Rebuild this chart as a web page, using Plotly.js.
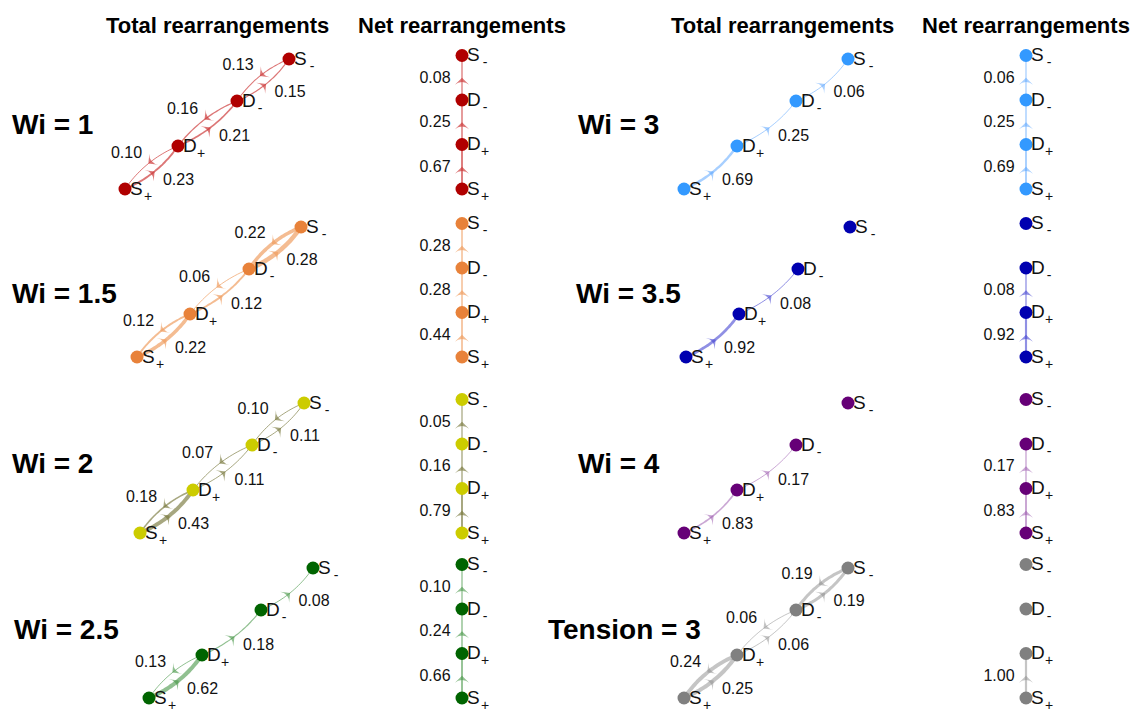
<!DOCTYPE html>
<html>
<head>
<meta charset="utf-8">
<script src="https://cdn.plot.ly/plotly-3.0.1.min.js"></script>
<style>html,body{margin:0;padding:0;background:#fff;}</style>
</head>
<body>
<div id="chart" style="width:1133px;height:713px;"></div>
<script>
// ---- data -------------------------------------------------------------
const conditions = ['Wi = 1', 'Wi = 1.5', 'Wi = 2', 'Wi = 2.5', 'Wi = 3', 'Wi = 3.5', 'Wi = 4', 'Tension = 3'];
const stateLetters = ['S', 'D', 'D', 'S'];
const stateSigns = ['+', '+', '-', '-'];
const columnTitles = ['Total rearrangements', 'Net rearrangements', 'Total rearrangements', 'Net rearrangements'];

// fractions for the steps S+→D+, D+→D-, D-→S- (forward) and the reverse steps (backward)
const forwardTotal = [
  [0.23, 0.21, 0.15],
  [0.22, 0.12, 0.28],
  [0.43, 0.11, 0.11],
  [0.62, 0.18, 0.08],
  [0.69, 0.25, 0.06],
  [0.92, 0.08, 0],
  [0.83, 0.17, 0],
  [0.25, 0.06, 0.19]
];
const backwardTotal = [
  [0.10, 0.16, 0.13],
  [0.12, 0.06, 0.22],
  [0.18, 0.07, 0.10],
  [0.13, 0, 0],
  [0, 0, 0],
  [0, 0, 0],
  [0, 0, 0],
  [0.24, 0.06, 0.19]
];
const netFlow = [
  [0.67, 0.25, 0.08],
  [0.44, 0.28, 0.28],
  [0.79, 0.16, 0.05],
  [0.66, 0.24, 0.10],
  [0.69, 0.25, 0.06],
  [0.92, 0.08, 0],
  [0.83, 0.17, 0],
  [1.00, 0, 0]
];

// ---- styling ----------------------------------------------------------
const nodeColors = ['#b00000', '#e8823a', '#cccc00', '#006400', '#3399ff', '#0000b0', '#660077', '#808080'];
const edgeColors = ['rgba(205,60,60,0.7)', 'rgba(240,160,100,0.7)', 'rgba(120,120,60,0.65)', 'rgba(70,150,70,0.6)',
                    'rgba(80,160,255,0.5)', 'rgba(70,70,210,0.6)', 'rgba(150,80,170,0.5)', 'rgba(140,140,140,0.5)'];
const totalWidthScale = [8, 16, 9, 6.5, 3.5, 3, 2, 16];

// ---- geometry (axes are drawn one unit per pixel) ----------------------
const W = 1133, H = 713;
const rowBase = [189, 357, 533, 698];
const totalStartX = [125, 137, 140, 149, 684, 686, 684, 684];
const netColX = [462, 1026];
const totalStepX = [0, 53, 112, 164];
const totalStepY = [0, -43, -88, -130];
const netStepY = [0, -44.5, -89, -133.5];
const colTitleX = [217, 462, 782, 1026];
const condLabelX = [10, 10, 10, 12, 576, 574, 576, 546];
const condLabelY = [124, 293, 463, 629];

const FONT = 'Arial, "Liberation Sans", sans-serif';
const BEND = 10;
const traces = [];
const annotations = [];

function addEdge(a, b, value, bend, width, color, labelOffset, labelX) {
  const dx = b[0] - a[0], dy = b[1] - a[1];
  const len = Math.hypot(dx, dy);
  const nx = -dy / len, ny = dx / len;
  const mx = (a[0] + b[0]) / 2, my = (a[1] + b[1]) / 2;
  const cx = mx + nx * bend, cy = my + ny * bend;
  const xs = [], ys = [];
  for (let i = 0; i <= 24; i++) {
    const t = i / 24, u = 1 - t;
    xs.push(u * u * a[0] + 2 * u * t * cx + t * t * b[0]);
    ys.push(u * u * a[1] + 2 * u * t * cy + t * t * b[1]);
  }
  traces.push({x: xs, y: ys, mode: 'lines', line: {color: color, width: width, shape: 'spline'},
               hoverinfo: 'skip', showlegend: false});
  const angle = Math.atan2(dx, -dy) * 180 / Math.PI;
  traces.push({x: [mx + nx * bend / 2], y: [my + ny * bend / 2], mode: 'markers',
               marker: {symbol: 'arrow-wide', size: 10, angle: angle, color: color, line: {width: 0}},
               hoverinfo: 'skip', showlegend: false});
  const lx = labelX !== undefined ? labelX : mx + labelOffset[0];
  traces.push({x: [lx], y: [my + labelOffset[1]], mode: 'text', text: [value.toFixed(2)],
               textposition: 'middle center', textfont: {family: FONT, size: 16, color: '#111'},
               hoverinfo: 'skip', showlegend: false});
}

function addNodes(pts, color) {
  traces.push({x: pts.map(p => p[0]), y: pts.map(p => p[1]), mode: 'markers',
               marker: {size: 13, color: color}, hoverinfo: 'skip', showlegend: false});
  // state letter and its sign, the sign set low as a subscript
  traces.push({x: pts.map(p => p[0] + 5), y: pts.map(p => p[1] + 1), mode: 'text',
               text: stateLetters, textposition: 'middle right',
               textfont: {family: FONT, size: 19, color: '#111'},
               hoverinfo: 'skip', showlegend: false});
  traces.push({x: pts.map(p => p[0] + 23), y: pts.map(p => p[1] + 8),
               mode: 'text', text: stateSigns, textposition: 'middle center',
               textfont: {family: FONT, size: 14, color: '#111'},
               hoverinfo: 'skip', showlegend: false});
}

conditions.forEach((name, k) => {
  const row = k % 4, side = Math.floor(k / 4);
  const base = rowBase[row];
  const tot = totalStepX.map((sx, i) => [totalStartX[k] + sx, base + totalStepY[i]]);
  const net = netStepY.map(sy => [netColX[side], base + sy]);
  const wscale = totalWidthScale[k];

  for (let s = 0; s < 3; s++) {
    const f = forwardTotal[k][s], bk = backwardTotal[k][s];
    if (f > 0) addEdge(tot[s], tot[s + 1], f, BEND, Math.max(1, f * wscale), edgeColors[k], [27, 13]);
    if (bk > 0) addEdge(tot[s + 1], tot[s], bk, BEND, Math.max(1, bk * wscale), edgeColors[k], [-25, -14]);
    const n = netFlow[k][s];
    if (n > 0) addEdge(net[s], net[s + 1], n, 0, 1.2 + n, edgeColors[k], [0, 1], netColX[side] - 27);
  }
  addNodes(tot, nodeColors[k]);
  addNodes(net, nodeColors[k]);

  annotations.push({x: condLabelX[k], y: condLabelY[row], xref: 'x', yref: 'y', text: '<b>' + name + '</b>',
                    showarrow: false, xanchor: 'left', yanchor: 'middle',
                    font: {family: FONT, size: 28, color: '#000'}});
});

columnTitles.forEach((t, i) => {
  annotations.push({x: colTitleX[i], y: 25, xref: 'x', yref: 'y', text: '<b>' + t + '</b>',
                    showarrow: false, xanchor: 'center', yanchor: 'middle',
                    font: {family: FONT, size: 22, color: '#000'}});
});

const layout = {
  width: W, height: H,
  margin: {l: 0, r: 0, t: 0, b: 0},
  paper_bgcolor: '#fff', plot_bgcolor: '#fff',
  xaxis: {range: [0, W], visible: false, fixedrange: true},
  yaxis: {range: [H, 0], visible: false, fixedrange: true},
  showlegend: false, hovermode: false,
  annotations: annotations
};

Plotly.newPlot('chart', traces, layout, {displayModeBar: false, staticPlot: true});
</script>
</body>
</html>
